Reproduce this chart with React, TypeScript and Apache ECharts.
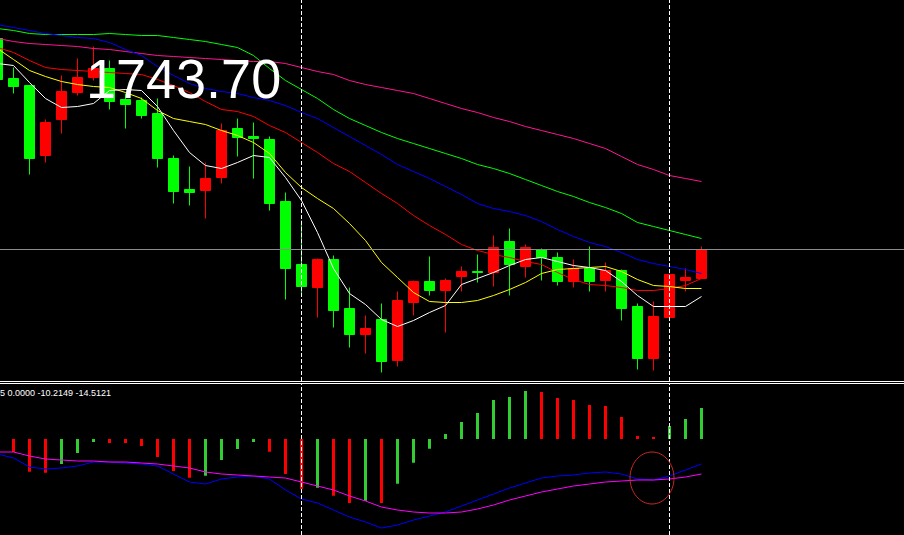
import React, { useEffect, useRef } from "react";
import * as echarts from "echarts";

// ---------- data ----------
const slotCount = 58;
const categories = Array.from({ length: slotCount }, (_, i) => String(i));

// [open, close, low, high]
const candles = [
  [1849.2, 1828.7, 1828.2, 1850.2],
  [1829.2, 1825.2, 1821.7, 1834.7],
  [1825.7, 1789.2, 1781.2, 1825.7],
  [1790.7, 1807.2, 1787.2, 1808.7],
  [1808.7, 1822.7, 1801.7, 1830.7],
  [1822.2, 1829.7, 1820.7, 1839.2],
  [1829.7, 1834.2, 1828.2, 1845.2],
  [1834.2, 1817.7, 1813.7, 1838.2],
  [1818.7, 1816.2, 1804.2, 1821.7],
  [1818.2, 1810.7, 1809.2, 1819.7],
  [1811.7, 1789.2, 1784.7, 1819.2],
  [1789.2, 1772.7, 1766.7, 1790.7],
  [1773.7, 1772.2, 1765.7, 1785.2],
  [1773.2, 1779.2, 1759.2, 1787.2],
  [1779.7, 1803.2, 1776.7, 1806.7],
  [1804.2, 1799.7, 1790.2, 1809.2],
  [1800.2, 1799.2, 1779.2, 1807.2],
  [1798.7, 1766.7, 1763.2, 1800.2],
  [1767.7, 1734.2, 1718.7, 1772.2],
  [1736.2, 1725.2, 1721.7, 1758.2],
  [1724.7, 1738.7, 1709.7, 1739.2],
  [1738.7, 1713.2, 1704.7, 1740.7],
  [1714.2, 1701.2, 1694.7, 1724.7],
  [1701.2, 1704.2, 1691.7, 1710.7],
  [1708.7, 1687.7, 1682.2, 1716.7],
  [1688.2, 1718.2, 1685.2, 1722.7],
  [1717.2, 1727.7, 1710.7, 1728.2],
  [1727.7, 1723.2, 1720.7, 1740.2],
  [1723.2, 1728.2, 1702.2, 1729.2],
  [1730.2, 1732.7, 1722.7, 1735.2],
  [1732.7, 1732.2, 1727.2, 1741.2],
  [1732.2, 1744.7, 1725.2, 1750.7],
  [1747.7, 1736.2, 1720.7, 1754.2],
  [1735.2, 1744.7, 1729.7, 1746.2],
  [1743.7, 1739.7, 1728.2, 1744.2],
  [1739.7, 1727.7, 1725.7, 1742.2],
  [1727.7, 1734.2, 1724.7, 1738.7],
  [1734.2, 1727.7, 1722.7, 1745.2],
  [1728.2, 1733.2, 1722.7, 1737.2],
  [1733.2, 1714.2, 1708.2, 1733.7],
  [1715.2, 1689.2, 1683.7, 1716.7],
  [1689.2, 1710.2, 1683.2, 1717.7],
  [1709.7, 1731.2, 1709.2, 1731.7],
  [1728.2, 1729.7, 1722.7, 1734.2],
  [1729.2, 1743.7, 1729.2, 1745.2],
];

const maWhite = [1836.7, 1835.7, 1827.2, 1819.2, 1814.7, 1815.2, 1816.7, 1823.2, 1823.7, 1823.2, 1815.2, 1803.2, 1792.2, 1785.7, 1784.2, 1787.2, 1790.7, 1789.7, 1779.7, 1768.2, 1752.2, 1734.2, 1721.7, 1716.2, 1708.7, 1705.2, 1708.2, 1712.2, 1715.7, 1726.2, 1729.2, 1732.2, 1735.7, 1738.7, 1739.7, 1737.7, 1735.7, 1734.7, 1733.2, 1727.7, 1720.7, 1715.2, 1715.2, 1715.2, 1720.2];
const maYellow = [1844.2, 1838.7, 1833.2, 1830.2, 1827.7, 1826.2, 1825.2, 1824.7, 1822.2, 1819.2, 1813.2, 1809.2, 1807.7, 1806.2, 1803.2, 1800.7, 1797.2, 1791.7, 1782.2, 1774.7, 1769.2, 1764.2, 1756.7, 1748.2, 1737.2, 1729.7, 1722.2, 1717.7, 1717.2, 1717.2, 1718.2, 1720.7, 1723.7, 1727.2, 1731.7, 1733.7, 1734.2, 1734.7, 1735.2, 1732.7, 1728.7, 1725.7, 1725.2, 1724.2, 1724.2];
const maRed = [1844.7, 1842.2, 1838.2, 1834.7, 1833.7, 1833.2, 1832.7, 1832.2, 1831.7, 1831.2, 1828.7, 1825.7, 1822.2, 1817.7, 1813.7, 1812.7, 1810.2, 1805.7, 1802.2, 1797.2, 1792.2, 1786.7, 1782.7, 1777.2, 1771.7, 1766.7, 1760.7, 1755.7, 1751.2, 1746.2, 1743.2, 1741.2, 1739.7, 1737.7, 1736.2, 1732.2, 1728.7, 1726.2, 1725.7, 1724.7, 1723.2, 1723.2, 1724.2, 1725.7, 1729.2];
const maBlue = [1856.2, 1854.7, 1853.2, 1851.7, 1850.7, 1849.7, 1849.2, 1847.2, 1843.7, 1840.7, 1835.2, 1830.7, 1826.7, 1824.2, 1822.7, 1821.7, 1819.7, 1818.2, 1815.7, 1812.2, 1809.2, 1804.7, 1800.2, 1795.7, 1791.2, 1786.2, 1782.7, 1779.2, 1775.2, 1771.2, 1766.7, 1764.2, 1762.7, 1760.7, 1757.7, 1753.7, 1750.2, 1747.2, 1745.2, 1742.2, 1738.7, 1736.7, 1735.2, 1733.7, 1731.7];
const maGreen = [1854.2, 1853.2, 1851.7, 1851.2, 1851.2, 1851.2, 1851.2, 1851.7, 1851.2, 1850.7, 1850.7, 1849.7, 1848.7, 1847.7, 1846.2, 1844.7, 1840.7, 1834.2, 1828.2, 1823.7, 1819.2, 1813.7, 1809.2, 1805.7, 1802.2, 1799.2, 1796.7, 1794.2, 1791.7, 1789.2, 1786.2, 1784.2, 1781.7, 1778.7, 1775.7, 1772.7, 1770.2, 1767.2, 1764.7, 1761.7, 1757.2, 1755.2, 1753.2, 1751.2, 1749.2];
const maPink = [1849.2, 1847.7, 1846.7, 1846.2, 1845.7, 1845.2, 1844.2, 1843.7, 1842.7, 1841.7, 1840.7, 1840.2, 1839.7, 1839.2, 1838.7, 1838.2, 1837.7, 1837.7, 1836.7, 1834.7, 1832.7, 1831.2, 1828.2, 1826.2, 1824.7, 1823.2, 1821.7, 1819.2, 1816.7, 1814.2, 1812.2, 1809.7, 1807.7, 1805.2, 1803.2, 1801.2, 1799.2, 1796.7, 1794.2, 1790.2, 1786.2, 1783.7, 1780.7, 1779.2, 1777.7];

const histValues = [null, -5.2, -13.1, -13.5, -10.0, -5.6, -1.2, -1.6, -1.6, -2.8, -7.2, -12.8, -15.5, -14.7, -8.4, -4.0, -1.2, -5.1, -14.0, -20.0, -19.5, -22.7, -25.6, -24.7, -25.6, -17.9, -9.5, -3.9, 2.0, 6.8, 10.4, 15.6, 16.8, 19.2, 18.8, 16.4, 15.6, 13.6, 13.2, 8.8, 1.2, 0.8, 5.2, 8.0, 12.4];
// 1 = rising state (green bar), 0 = falling state (red bar)
const histState = [0, 0, 0, 0, 1, 1, 1, 0, 0, 0, 0, 0, 0, 1, 1, 1, 1, 0, 0, 0, 1, 0, 0, 1, 0, 1, 1, 1, 1, 1, 1, 1, 1, 1, 0, 0, 0, 0, 0, 0, 0, 0, 1, 1, 1];
const macdMain = [-6.0, -7.6, -11.2, -12.0, -11.6, -10.8, -9.2, -9.2, -9.6, -10.0, -10.8, -14.0, -17.2, -18.0, -16.0, -15.2, -14.8, -16.0, -20.4, -24.0, -25.6, -28.4, -31.2, -33.2, -35.6, -34.4, -32.4, -30.8, -29.2, -26.8, -24.4, -22.0, -19.6, -17.6, -15.6, -14.8, -14.4, -13.6, -13.2, -14.0, -16.0, -16.4, -14.8, -12.4, -10.0];
const macdSignal = [-5.2, -5.2, -6.8, -8.0, -8.4, -8.8, -8.8, -9.2, -9.2, -9.6, -10.0, -10.8, -11.6, -13.2, -14.0, -14.4, -14.8, -15.2, -15.6, -17.2, -18.8, -20.4, -22.8, -24.8, -27.2, -28.4, -29.2, -29.6, -29.6, -29.2, -28.0, -26.4, -24.4, -22.8, -21.2, -20.0, -18.8, -18.0, -17.2, -16.8, -16.4, -16.4, -16.0, -15.2, -14.0];

const separatorBars = ["19", "42"];
const bidPrice = 1743.7;
const indicatorInfo = "5 0.0000 -10.2149 -14.5121";
const circledBar = "41";
const circledValue = -15.6;

// ---------- colours ----------
const C = {
  up: "#ff0000",
  down: "#00ff00",
  histUp: "#32cd32",
  histDown: "#ff0000",
  white: "#ffffff",
  yellow: "#ffff00",
  red: "#ff0000",
  blue: "#0000ff",
  green: "#00ff00",
  pink: "#ff1493",
  macd: "#0000ff",
  signal: "#ff00ff",
  bid: "#8c8c8c",
};

const sepLines = (color: string) =>
  separatorBars.map((b) => ({
    xAxis: b,
    lineStyle: { color, type: [4, 2], width: 1 },
  }));

function maSeries(data: number[], color: string) {
  return {
    type: "line",
    xAxisIndex: 0,
    yAxisIndex: 0,
    data,
    showSymbol: false,
    symbol: "none",
    lineStyle: { color, width: 1 },
    z: 3,
    silent: true,
  };
}

export default function App() {
  const ref = useRef<HTMLDivElement>(null);
  useEffect(() => {
    document.body.style.margin = "0";
    document.body.style.background = "#000";
    const chart = echarts.init(ref.current!, null, {
      renderer: "svg",
      width: 904,
      height: 535,
    });
    const hiddenCat = (gridIndex: number) => ({
      type: "category",
      gridIndex,
      data: categories,
      boundaryGap: true,
      show: false,
    });
    chart.setOption({
      animation: false,
      backgroundColor: "#000000",
      grid: [
        { left: -10.5, top: 0, width: 928, height: 381, outerBoundsMode: "none", containLabel: false },
        { left: -10.5, top: 384, width: 928, height: 151, outerBoundsMode: "none", containLabel: false },
      ],
      xAxis: [hiddenCat(0), hiddenCat(1)],
      yAxis: [
        { type: "value", gridIndex: 0, min: 1677.95, max: 1868.45, show: false, splitLine: { show: false } },
        { type: "value", gridIndex: 1, min: -38.4, max: 22, show: false, splitLine: { show: false } },
      ],
      series: [
        {
          type: "candlestick",
          xAxisIndex: 0,
          yAxisIndex: 0,
          data: candles,
          barWidth: 10,
          z: 2,
          itemStyle: {
            color: C.up,
            color0: C.down,
            borderColor: C.up,
            borderColor0: C.down,
            borderWidth: 1,
          },
          markLine: {
            silent: true,
            symbol: ["none", "none"],
            label: { show: false },
            z: 5,
            data: [
              { yAxis: bidPrice, lineStyle: { color: C.bid, type: "solid", width: 1 } },
              ...sepLines(C.white),
            ],
          },
        },
        maSeries(maPink, C.pink),
        maSeries(maGreen, C.green),
        maSeries(maBlue, C.blue),
        maSeries(maRed, C.red),
        maSeries(maYellow, C.yellow),
        maSeries(maWhite, C.white),
        {
          type: "bar",
          xAxisIndex: 1,
          yAxisIndex: 1,
          barWidth: 3,
          data: histValues.map((v, i) => ({
            value: v,
            itemStyle: { color: histState[i] ? C.histUp : C.histDown },
          })),
          markLine: {
            silent: true,
            symbol: ["none", "none"],
            label: { show: false },
            z: 5,
            data: sepLines(C.white),
          },
        },
        {
          type: "line",
          xAxisIndex: 1,
          yAxisIndex: 1,
          data: macdMain,
          showSymbol: false,
          symbol: "none",
          lineStyle: { color: C.macd, width: 1 },
          z: 3,
        },
        {
          type: "line",
          xAxisIndex: 1,
          yAxisIndex: 1,
          data: macdSignal,
          showSymbol: false,
          symbol: "none",
          lineStyle: { color: C.signal, width: 1 },
          z: 3,
        },
      ],
      graphic: [
        {
          id: "sep1",
          type: "line",
          shape: { x1: 0, y1: 381.5, x2: 904, y2: 381.5 },
          style: { stroke: "#ffffff", lineWidth: 1 },
          z: 50,
        },
        {
          id: "sep2",
          type: "line",
          shape: { x1: 0, y1: 383.5, x2: 904, y2: 383.5 },
          style: { stroke: "#ffffff", lineWidth: 1 },
          z: 50,
        },
        {
          id: "info",
          type: "text",
          x: 0,
          y: 392.5,
          style: {
            text: indicatorInfo,
            fill: "#ffffff",
            font: '9px "Liberation Sans", Arial, sans-serif',
            align: "left",
            verticalAlign: "middle",
          },
          z: 50,
        },
        {
          id: "bigprice",
          type: "text",
          x: 86,
          y: 79,
          scaleY: 1.04,
          style: {
            text: bidPrice.toFixed(2),
            fill: "#ffffff",
            font: '54px "Liberation Sans", Arial, sans-serif',
            align: "left",
            verticalAlign: "middle",
          },
          z: 60,
        },
      ],
    });
    const pt = chart.convertToPixel({ seriesIndex: 7 }, [circledBar, circledValue]) as number[];
    if (pt && isFinite(pt[0]) && isFinite(pt[1])) {
      chart.setOption({
        graphic: [
          {
            id: "circle",
            type: "ellipse",
            shape: { cx: pt[0] - 1.5, cy: pt[1], rx: 22, ry: 26 },
            style: { stroke: "#cc2a22", fill: "none", lineWidth: 1 },
            z: 55,
          },
        ],
      });
    }
    return () => chart.dispose();
  }, []);
  return (
    <div
      ref={ref}
      style={{ position: "fixed", left: 0, top: 0, width: 904, height: 535, background: "#000" }}
    />
  );
}
